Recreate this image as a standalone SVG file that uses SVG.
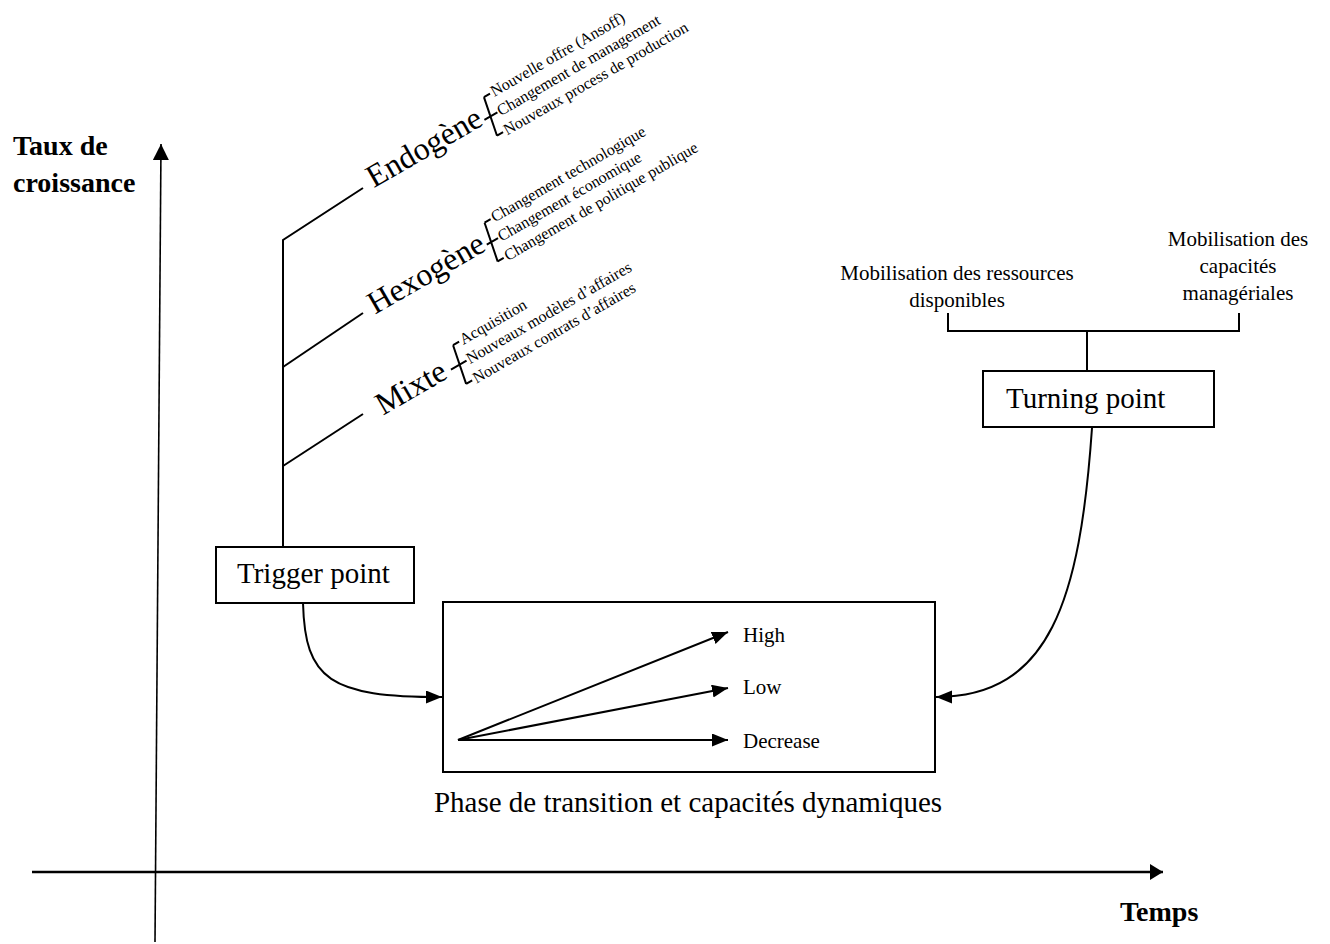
<svg xmlns="http://www.w3.org/2000/svg" width="1330" height="944" viewBox="0 0 1330 944">
<defs>
<style>
text{font-family:"Liberation Serif","Times New Roman",serif;fill:#000}
.ln{stroke:#000;fill:none;stroke-width:2}
.big{font-size:32px}
.sm{font-size:16px}
.lbl{font-size:29px}
.mid{font-size:21px}
.bold{font-size:28px;font-weight:bold}
.box{fill:#fff;stroke:#000;stroke-width:2}
.frame{fill:none;stroke:#000;stroke-width:2}
</style>
<marker id="ah" markerUnits="userSpaceOnUse" markerWidth="17" markerHeight="14" refX="16" refY="6.5" orient="auto"><path d="M0,0 L16,6.5 L0,13 z" fill="#000"/></marker>
<marker id="ahx" markerUnits="userSpaceOnUse" markerWidth="14" markerHeight="16" refX="13" refY="8" orient="auto"><path d="M0,0 L13,8 L0,16 z" fill="#000"/></marker>
<marker id="ahy" markerUnits="userSpaceOnUse" markerWidth="17" markerHeight="16" refX="16" refY="8" orient="auto"><path d="M0,0 L16,8 L0,16 z" fill="#000"/></marker>
</defs>
<rect width="1330" height="944" fill="#fff"/>

<g id="axes">
<line x1="155" y1="942" x2="161" y2="144" stroke="#000" stroke-width="1.6" marker-end="url(#ahy)"/>
<line x1="32" y1="872" x2="1163" y2="872" stroke="#000" stroke-width="2.5" marker-end="url(#ahx)"/>
<text class="bold" x="13" y="155">Taux de</text>
<text class="bold" x="13" y="192">croissance</text>
<text class="bold" x="1120" y="921">Temps</text>
</g>

<g id="trigger">
<rect class="box" x="216" y="547" width="198" height="56"/>
<text class="lbl" x="237" y="583">Trigger point</text>
</g>

<g id="transition">
<rect class="frame" x="443" y="602" width="492" height="170"/>
<text class="mid" x="743" y="642">High</text>
<text class="mid" x="743" y="694">Low</text>
<text class="mid" x="743" y="748">Decrease</text>
<text class="lbl" x="688" y="812" text-anchor="middle">Phase de transition et capacités dynamiques</text>
</g>

<g id="turning">
<rect class="box" x="983" y="371" width="231" height="56" stroke-width="3"/>
<text class="lbl" x="1006" y="408">Turning point</text>
</g>

<g id="ressources">
<text class="mid" x="957" y="280" text-anchor="middle">Mobilisation des ressources</text>
<text class="mid" x="957" y="307" text-anchor="middle">disponibles</text>
</g>

<g id="capacites">
<text class="mid" x="1238" y="246" text-anchor="middle">Mobilisation des</text>
<text class="mid" x="1238" y="273" text-anchor="middle">capacités</text>
<text class="mid" x="1238" y="300" text-anchor="middle">managériales</text>
</g>

<g id="endogene" transform="translate(369,190) rotate(-30)">
<text class="big" x="5" y="1">Endogène</text>
<path class="ln" d="M135,-3 H150 M146,-23 L138,17 M146,-23 H153 M138,17 H145"/>
<text class="sm" x="155" y="-18">Nouvelle offre (Ansoff)</text>
<text class="sm" x="151" y="2">Changement de management</text>
<text class="sm" x="147" y="22">Nouveaux process de production</text>
</g>

<g id="hexogene" transform="translate(371,316) rotate(-30)">
<text class="big" x="4" y="1">Hexogène</text>
<path class="ln" d="M136,-4 H149 M145,-24 L137,16 M145,-24 H152 M137,16 H144"/>
<text class="sm" x="154" y="-19">Changement technologique</text>
<text class="sm" x="150" y="1">Changement économique</text>
<text class="sm" x="146" y="21">Changement de politique publique</text>
</g>

<g id="mixte" transform="translate(375,418) rotate(-30)">
<text class="big" x="8" y="2">Mixte</text>
<path class="ln" d="M90,-4 H108 M104,-24 L96,16 M104,-24 H111 M96,16 H103"/>
<text class="sm" x="113" y="-19">Acquisition</text>
<text class="sm" x="109" y="1">Nouveaux modèles d’affaires</text>
<text class="sm" x="105" y="21">Nouveaux contrats d’affaires</text>
</g>

<g id="connectors">
<path class="ln" d="M283,547 V240 L363,188"/>
<path class="ln" d="M283,367 L363,313"/>
<path class="ln" d="M283,466 L363,414"/>
<path class="ln" d="M303,603 C305,680 330,697 442,697" marker-end="url(#ah)"/>
<path class="ln" d="M1092,428 C1080,600 1050,697 936,697" marker-end="url(#ah)"/>
<path class="ln" d="M948,313 V331 H1239 V313 M1087,331 V371"/>
<line class="ln" x1="458" y1="740" x2="728" y2="632" marker-end="url(#ah)"/>
<line class="ln" x1="458" y1="740" x2="728" y2="688" marker-end="url(#ah)"/>
<line class="ln" x1="458" y1="740" x2="728" y2="740" marker-end="url(#ah)"/>
</g>
</svg>
